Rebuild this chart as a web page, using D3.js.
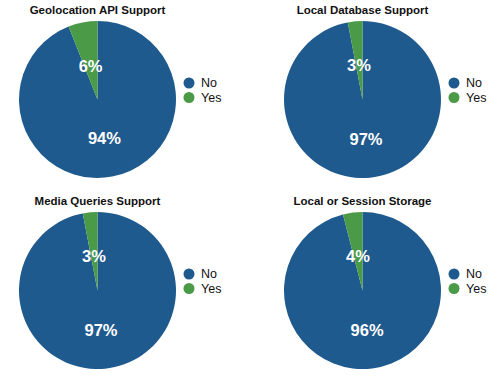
<!DOCTYPE html>
<html>
<head>
<meta charset="utf-8">
<script src="https://cdn.jsdelivr.net/npm/d3@7"></script>
<style>
  body { margin: 0; background: #fff; }
  text { font-family: Helvetica, Arial, "Liberation Sans", sans-serif; }
</style>
</head>
<body>
<svg id="chart"></svg>
<script>
// size of the whole graphic
var width = 500,
    height = 377;

// chart data
var titles = ["Geolocation API Support", "Local Database Support", "Media Queries Support", "Local or Session Storage"];
var categories = ["No", "Yes"];
var noValues = [94, 97, 97, 96];
var yesValues = [6, 3, 3, 4];

var color = d3.scaleOrdinal()
    .domain(categories)
    .range(["#1f5a8e", "#4a9a48"]);

var radius = 78.5;

var pie = d3.pie()
    .sort(null)
    .value(function(d) { return d.value; });

var arc = d3.arc()
    .innerRadius(0)
    .outerRadius(radius);

// labels sit a bit inside half the radius
var labelArc = d3.arc()
    .innerRadius(radius * 0.47)
    .outerRadius(radius * 0.47);

var svg = d3.select("#chart")
    .attr("width", width)
    .attr("height", height);

// 2 x 2 grid of panels
var cellX = d3.scaleBand().domain([0, 1]).range([0, 530]);
var cellY = d3.scaleBand().domain([0, 1]).range([0, 382]);

titles.forEach(function(title, i) {
  var data = [
    { key: categories[0], value: noValues[i] },
    { key: categories[1], value: yesValues[i] }
  ];

  var g = svg.append("g")
      .attr("transform", "translate(" + cellX(i % 2) + "," + cellY(Math.floor(i / 2)) + ")");

  g.append("text")
      .attr("x", 97.5)
      .attr("y", 14)
      .attr("text-anchor", "middle")
      .style("font-size", "11.5px")
      .style("font-weight", "bold")
      .attr("fill", "#111")
      .text(title);

  var pg = g.append("g")
      .attr("transform", "translate(97.5,99.5)");

  pg.selectAll("path")
    .data(pie(data))
    .enter()
    .append("path")
    .attr("d", arc)
    .attr("fill", function(d) { return color(d.data.key); });

  pg.selectAll("text")
    .data(pie(data))
    .enter()
    .append("text")
    .attr("transform", function(d) { return "translate(" + labelArc.centroid(d) + ")"; })
    .attr("dy", "0.52em")
    .attr("text-anchor", "middle")
    .style("font-size", "16.5px")
    .style("font-weight", "bold")
    .attr("fill", "#fff")
    .text(function(d) { return d.data.value + "%"; });

  // legend
  var lg = g.selectAll(".legend")
    .data(categories)
    .enter()
    .append("g")
    .attr("class", "legend")
    .attr("transform", function(d, j) { return "translate(189," + (83 + j * 14.5) + ")"; });

  lg.append("circle")
    .attr("r", 5.5)
    .attr("fill", function(d) { return color(d); });

  lg.append("text")
    .attr("x", 12)
    .attr("dy", "0.35em")
    .style("font-size", "12.5px")
    .attr("fill", "#111")
    .text(function(d) { return d; });
});
</script>
</body>
</html>
